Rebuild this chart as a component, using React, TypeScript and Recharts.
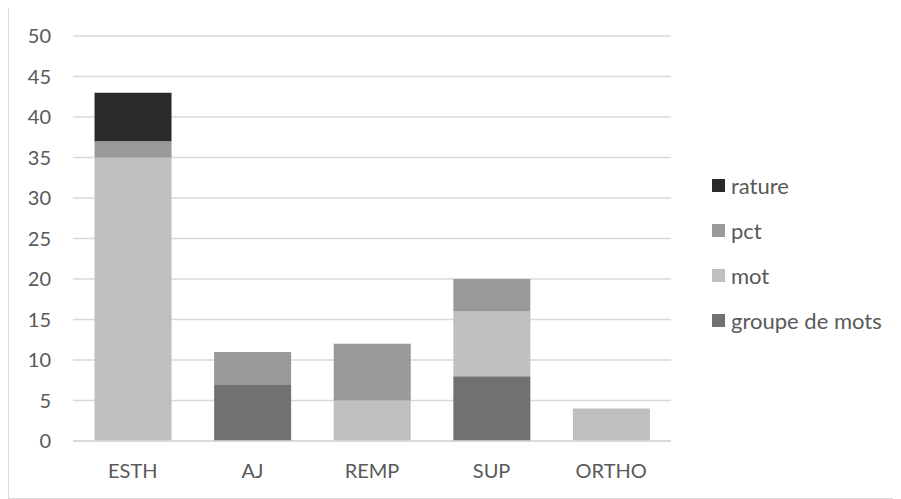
import { BarChart, Bar, XAxis, YAxis, CartesianGrid, Legend } from "recharts";

const categories = ["ESTH", "AJ", "REMP", "SUP", "ORTHO"];
const groupeDeMots = [0, 7, 0, 8, 0];
const mot = [35, 0, 5, 8, 4];
const pct = [2, 4, 7, 4, 0];
const rature = [6, 0, 0, 0, 0];
const yTicks = [0, 5, 10, 15, 20, 25, 30, 35, 40, 45, 50];

const data = categories.map((cat, i) => ({
  cat,
  groupe: groupeDeMots[i],
  mot: mot[i],
  pct: pct[i],
  rature: rature[i],
}));

const textColor = "#595959";
const font = "Lato, 'Open Sans', sans-serif";
const fontSize = 20;

function LegendList(props: any) {
  const items = [...(props.payload || [])].reverse();
  return (
    <div style={{ fontFamily: font, fontSize: 22, color: textColor }}>
      {items.map((it: any) => (
        <div key={it.value} style={{ display: "flex", alignItems: "center", height: 45 }}>
          <span style={{ width: 13, height: 13, background: it.color, marginRight: 6, display: "inline-block" }} />
          <span>{it.value}</span>
        </div>
      ))}
    </div>
  );
}

export default function App() {
  return (
    <div style={{ width: 892, height: 490, border: "1px solid #d9d9d9", marginTop: -1, background: "#fff" }}>
      <BarChart
        width={892}
        height={490}
        data={data}
        margin={{ top: 28, right: 230, left: 0, bottom: 27 }}
        barCategoryGap="18%"
      >
        <CartesianGrid vertical={false} stroke="#d9d9d9" strokeWidth={1.5} />
        <XAxis
          dataKey="cat"
          height={30}
          tickLine={false}
          tickSize={0}
          tickMargin={23}
          axisLine={{ stroke: "#d9d9d9", strokeWidth: 1.5 }}
          tick={{ fill: textColor, fontSize, fontFamily: font }}
        />
        <YAxis
          width={64}
          domain={[0, 50]}
          ticks={yTicks}
          interval={0}
          tickLine={false}
          axisLine={false}
          tickSize={0}
          tickMargin={22}
          tick={{ fill: textColor, fontSize, fontFamily: font }}
        />
        <Legend
          layout="vertical"
          align="center"
          verticalAlign="middle"
          wrapperStyle={{ left: 703, top: 155, width: 188 }}
          content={<LegendList />}
        />
        <Bar dataKey="groupe" name="groupe de mots" stackId="a" fill="#717171" isAnimationActive={false} />
        <Bar dataKey="mot" name="mot" stackId="a" fill="#bfbfbf" isAnimationActive={false} />
        <Bar dataKey="pct" name="pct" stackId="a" fill="#999999" isAnimationActive={false} />
        <Bar dataKey="rature" name="rature" stackId="a" fill="#2a2a2a" isAnimationActive={false} />
      </BarChart>
    </div>
  );
}
